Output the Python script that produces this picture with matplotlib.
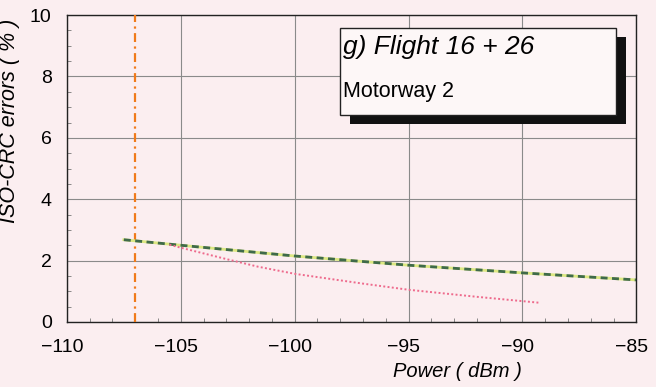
import matplotlib
matplotlib.use("Agg")
import matplotlib.pyplot as plt
from matplotlib.patches import Rectangle
from matplotlib.ticker import MultipleLocator
from matplotlib.transforms import ScaledTranslation

plt.rcParams['font.family'] = ['Liberation Sans', 'DejaVu Sans']

# Data
green_x = [-107.5, -105, -100, -95, -90, -85]
green_y = [2.68, 2.50, 2.15, 1.85, 1.60, 1.37]
pink_x = [-105.5, -105, -103, -101.6, -100, -97, -95, -92, -89.3]
pink_y = [2.52, 2.42, 2.05, 1.80, 1.57, 1.25, 1.05, 0.82, 0.63]
vline_x = -107.0
x_ticks = [-110, -105, -100, -95, -90, -85]
y_ticks = [0, 2, 4, 6, 8, 10]
title_text = "g) Flight 16 + 26"
sub_text = "Motorway 2"

bg = '#fbeef0'
fig = plt.figure(figsize=(6.56, 3.87), dpi=100, facecolor=bg)
ax = fig.add_axes([0.102, 0.168, 0.868, 0.793], facecolor=bg)

ax.set_xlim(-110, -85)
ax.set_ylim(0, 10)
ax.set_xticks(x_ticks)
ax.set_yticks(y_ticks)
ax.set_xticklabels([("\u2212%d" % -v) for v in x_ticks])
ax.xaxis.set_minor_locator(MultipleLocator(1))
ax.yaxis.set_minor_locator(MultipleLocator(0.5))
ax.grid(True, which='major', color='#8a8a8a', linewidth=0.8)
ax.tick_params(which='major', length=0, labelsize=14)
ax.tick_params(axis='x', which='major', pad=12)
ax.tick_params(axis='y', which='major', pad=11)
ax.tick_params(which='minor', direction='in', length=3, color='#777777')
for s in ax.spines.values():
    s.set_color('#222222')
    s.set_linewidth(1.0)
# labels sit slightly left of their ticks, as in the reference
shift = ScaledTranslation(-5 / 100, 0, fig.dpi_scale_trans)
for lab in ax.get_xticklabels():
    lab.set_transform(lab.get_transform() + shift)

ax.axvline(vline_x, color='#f07a1a', linestyle=(0, (4, 2, 1, 2)), linewidth=1.6, zorder=3)
ax.plot(green_x, green_y, color='#dce882', linewidth=2.0, zorder=3)
ax.plot(green_x, green_y, color='#3f6a4a', linewidth=2.0, linestyle=(0, (2.5, 1.6)), zorder=4)
ax.plot(pink_x, pink_y, color='#ee6a8c', linewidth=1.4, linestyle=(0, (1, 1.2)), zorder=4)

ax.set_xlabel("Power ( dBm )", fontsize=14.5, style='italic')
ax.xaxis.set_label_coords(0.685, -0.13)
ax.set_ylabel("ISO-CRC errors ( % )", fontsize=15.5, style='italic')
ax.yaxis.set_label_coords(-0.083, 0.655)

# Boxed annotation with shadow
bx0, bx1, by0, by1 = -98.0, -85.9, 6.75, 9.58
dx, dy = 0.44, -0.30
ax.add_patch(Rectangle((bx0 + dx, by0 + dy), bx1 - bx0, by1 - by0,
                       facecolor='#111111', edgecolor='none', zorder=5))
ax.add_patch(Rectangle((bx0, by0), bx1 - bx0, by1 - by0,
                       facecolor='#fdf7f7', edgecolor='#222222', linewidth=1.0, zorder=6))
ax.text(bx0 + 0.12, 8.95, title_text, fontsize=19, style='italic', va='center', ha='left', zorder=7)
ax.text(bx0 + 0.12, 7.5, sub_text, fontsize=15.5, va='center', ha='left', zorder=7)

fig.savefig("out.png", dpi=100, facecolor=bg)
